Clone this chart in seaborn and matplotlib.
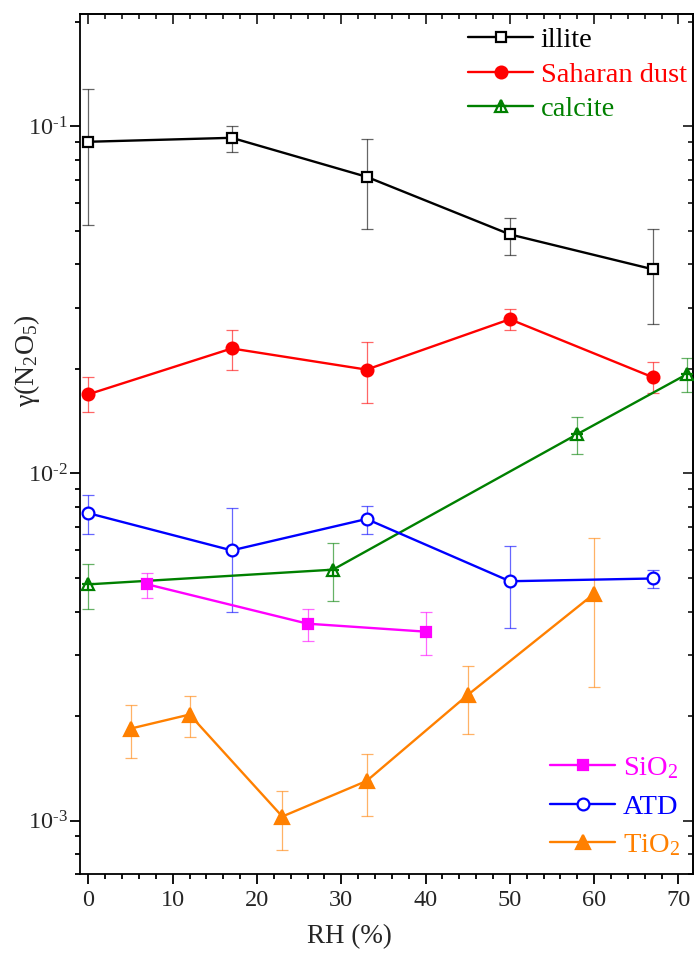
import numpy as np
import matplotlib
matplotlib.use("Agg")
import matplotlib.pyplot as plt
import seaborn as sns
from matplotlib.lines import Line2D
from matplotlib.ticker import MultipleLocator, LogLocator, FuncFormatter, NullFormatter

# ---------------- data ----------------
illite_x = [0, 17, 33, 50, 67]
illite_y = [0.0902, 0.0926, 0.0715, 0.0488, 0.0387]
illite_lo = [0.0518, 0.0841, 0.0506, 0.0427, 0.0269]
illite_hi = [0.128, 0.100, 0.092, 0.0545, 0.0506]

sahara_x = [0, 17, 33, 50, 67]
sahara_y = [0.0169, 0.0229, 0.0199, 0.0278, 0.0189]
sahara_lo = [0.0150, 0.0199, 0.0160, 0.0258, 0.0170]
sahara_hi = [0.0189, 0.0258, 0.0239, 0.0298, 0.0209]

calcite_x = [0, 29, 58, 71]
calcite_y = [0.00479, 0.00528, 0.01297, 0.0193]
calcite_lo = [0.00408, 0.00429, 0.01137, 0.0171]
calcite_hi = [0.00549, 0.00630, 0.01456, 0.0215]

atd_x = [0, 17, 33, 50, 67]
atd_y = [0.00768, 0.00600, 0.00739, 0.00489, 0.00498]
atd_lo = [0.00667, 0.00400, 0.00667, 0.00359, 0.00469]
atd_hi = [0.00867, 0.00797, 0.00806, 0.00617, 0.00528]

sio2_x = [7, 26, 40]
sio2_y = [0.00479, 0.00369, 0.00350]
sio2_lo = [0.00438, 0.00330, 0.00299]
sio2_hi = [0.00518, 0.00408, 0.00400]

tio2_x = [5, 12, 23, 33, 45, 60]
tio2_y = [0.00184, 0.00202, 0.001027, 0.00130, 0.00230, 0.00450]
tio2_lo = [0.00151, 0.00174, 0.00082, 0.00103, 0.00177, 0.00243]
tio2_hi = [0.00215, 0.00228, 0.00122, 0.00155, 0.00279, 0.00650]

x_ticks = [0, 10, 20, 30, 40, 50, 60, 70]

# ---------------- style ----------------
sns.set_style("ticks")
plt.rcParams['font.family'] = ['Liberation Serif', 'DejaVu Serif']
plt.rcParams['mathtext.fontset'] = 'custom'
plt.rcParams['mathtext.rm'] = 'Liberation Serif'
plt.rcParams['mathtext.it'] = 'Liberation Serif:italic'
plt.rcParams['mathtext.default'] = 'regular'

fig = plt.figure(figsize=(6.94, 9.57), dpi=100)
ax = fig.add_axes([0.1153, 0.0864, 0.8829, 0.8986])

BLACK, RED, GREEN, BLUE, MAG, ORANGE = "#000000", "#FF0000", "#008000", "#0000FF", "#FF00FF", "#FF8000"

series = [
    dict(x=illite_x, y=illite_y, lo=illite_lo, hi=illite_hi, c=BLACK, m='s', ms=7.5, mfc='white', label='illite'),
    dict(x=sahara_x, y=sahara_y, lo=sahara_lo, hi=sahara_hi, c=RED, m='o', ms=8.5, mfc=RED, label='Saharan dust'),
    dict(x=calcite_x, y=calcite_y, lo=calcite_lo, hi=calcite_hi, c=GREEN, m='^', ms=9, mfc='white', label='calcite'),
    dict(x=atd_x, y=atd_y, lo=atd_lo, hi=atd_hi, c=BLUE, m='o', ms=8.5, mfc='white', label='ATD'),
    dict(x=sio2_x, y=sio2_y, lo=sio2_lo, hi=sio2_hi, c=MAG, m='s', ms=7.5, mfc=MAG, label='SiO$_2$'),
    dict(x=tio2_x, y=tio2_y, lo=tio2_lo, hi=tio2_hi, c=ORANGE, m='^', ms=10.5, mfc=ORANGE, label='TiO$_2$'),
]

handles = {}
for s in series:
    y = np.array(s['y']); lo = np.array(s['lo']); hi = np.array(s['hi'])
    ax.errorbar(s['x'], y, yerr=[y - lo, hi - y], fmt='none', ecolor=s['c'],
                elinewidth=0.9, capsize=4, capthick=0.9, alpha=0.6, zorder=2)
    sns.lineplot(x=s['x'], y=s['y'], ax=ax, color=s['c'], linewidth=1.7,
                 marker=s['m'], markersize=s['ms'], markerfacecolor=s['mfc'],
                 markeredgecolor=s['c'], markeredgewidth=1.6, zorder=3,
                 estimator=None, sort=False)
    h = Line2D([], [], color=s['c'], lw=1.7, marker=s['m'], markersize=s['ms'],
               markerfacecolor=s['mfc'], markeredgecolor=s['c'], markeredgewidth=1.6)
    if s['label'] == 'calcite':
        ax.plot(s['x'], s['y'], linestyle='none', marker='+', markersize=9,
                markeredgewidth=1.6, color=s['c'], zorder=4)
        h = (h, Line2D([], [], linestyle='none', marker='+', markersize=9,
                       markeredgewidth=1.6, color=s['c']))
    handles[s['label']] = (h, s['c'])

ax.set_yscale('log')
ax.set_xlim(-1, 71.7)
ax.set_ylim(7e-4, 0.21)

ax.xaxis.set_major_locator(MultipleLocator(10))
ax.xaxis.set_minor_locator(MultipleLocator(2))
ax.set_xticks(x_ticks)
ax.yaxis.set_major_locator(LogLocator(base=10))
ax.yaxis.set_minor_locator(LogLocator(base=10, subs=np.arange(2, 10)))

def log_fmt(v, pos):
    e = int(round(np.log10(v)))
    return r'10$^{\text{%d}}$' % e

ax.yaxis.set_major_formatter(FuncFormatter(log_fmt))
ax.yaxis.set_minor_formatter(NullFormatter())

for sp in ax.spines.values():
    sp.set_linewidth(1.3)
    sp.set_color('black')
    sp.set_visible(True)

ax.tick_params(which='major', direction='out', length=7, width=1.3, labelsize=17.5, color='black', pad=4)
ax.tick_params(axis='y', which='major', pad=2)
ax.tick_params(which='minor', direction='out', length=3.8, width=1.3, color='black')

# mirrored inward ticks on top and right
top = ax.secondary_xaxis('top')
top.xaxis.set_major_locator(MultipleLocator(10))
top.xaxis.set_minor_locator(MultipleLocator(2))
top.tick_params(which='major', direction='in', length=7, width=1.3, labeltop=False)
top.tick_params(which='minor', direction='in', length=3.8, width=1.3)
top.spines['top'].set_linewidth(1.3)
right = ax.secondary_yaxis('right')
right.yaxis.set_major_locator(LogLocator(base=10))
right.yaxis.set_minor_locator(LogLocator(base=10, subs=np.arange(2, 10)))
right.tick_params(which='major', direction='in', length=7, width=1.3, labelright=False)
right.tick_params(which='minor', direction='in', length=3.8, width=1.3, labelright=False)
right.yaxis.set_minor_formatter(NullFormatter())
right.spines['right'].set_linewidth(1.3)

ax.set_xlabel('RH (%)', fontsize=19.5)
ax.xaxis.set_label_coords(0.440, -0.058)
ax.set_ylabel('γ(N$_2$O$_5$)', fontsize=20)
ax.yaxis.set_label_coords(-0.062, 0.597)

def make_legend(labels, anchor, ls):
    hs = [handles[l][0] for l in labels]
    leg = ax.legend(hs, labels, loc='upper left', bbox_to_anchor=anchor,
                    bbox_transform=fig.transFigure, frameon=False, fontsize=20.5,
                    borderpad=0, borderaxespad=0, handlelength=2.3,
                    handletextpad=0.25, labelspacing=ls)
    for t, l in zip(leg.get_texts(), labels):
        t.set_color(handles[l][1])
    return leg

leg1 = make_legend(['illite', 'Saharan dust', 'calcite'], (468 / 694, 1 - 27.5 / 957), 0.29)
ax.add_artist(leg1)
leg2 = make_legend(['SiO$_2$', 'ATD', 'TiO$_2$'], (550 / 694, 1 - 755 / 957), 0.45)

fig.savefig('out.png', dpi=100)
